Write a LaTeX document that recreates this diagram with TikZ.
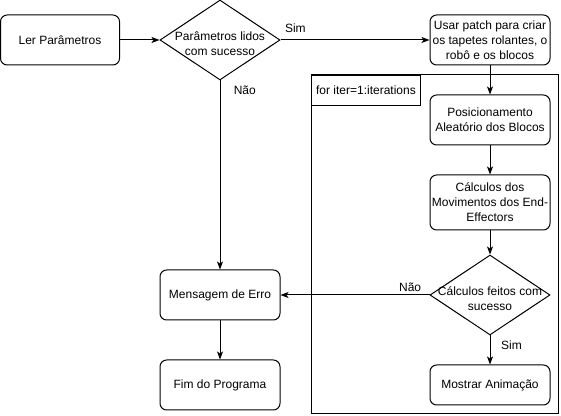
\documentclass[tikz,border=0pt]{standalone}
\usepackage{fontspec}
\setmainfont{Liberation Sans}
\usepackage{tikz}
\usetikzlibrary{shapes.geometric, arrows.meta}

\begin{document}
\begin{tikzpicture}[x=0.75pt,y=0.75pt,yscale=-1,xscale=1,
  every node/.style={font=\fontsize{9}{11.25}\selectfont, text=black},
  procbox/.style={draw, line width=0.75pt, rounded corners=5pt, minimum width=90pt, minimum height=37.5pt, align=center, inner sep=1pt},
  decision/.style={draw, line width=0.75pt, diamond, inner sep=0pt, minimum width=90pt, minimum height=60pt},
  inside/.style={align=center, inner sep=0pt},
  flow/.style={line width=0.75pt, -{Stealth[length=6pt,width=4.5pt,inset=1.5pt]}},
  edgelabel/.style={inner sep=1pt}]
%set diagram left start at 0, and has height of 416
\useasboundingbox (0,0) rectangle (561,416);

%Shape: Loop frame
\draw [line width=0.75pt]  (311,75) rectangle (558,414) ;
% Text Node: loop header
\node [draw, line width=0.75pt, anchor=north west, minimum width=81.75pt, minimum height=22.5pt, inner sep=3pt, align=left] (loophead) at (311,75) {for iter=1:iterations};

%Shape: Rounded Rect [Ler]
\node [procbox, minimum width=89.25pt] (ler) at (60,40) {Ler Parâmetros};
%Shape: Diamond [lidos]
\node [decision] (lidos) at (220,40) {};
% Text Node
\node [inside] (lidostext) at (220,44) {Parâmetros lidos\\com sucesso};
%Shape: Rounded Rect [patch]
\node [procbox] (patch) at (490,40) {Usar patch para criar\\os tapetes rolantes, o\\robô e os blocos};
%Shape: Rounded Rect [posic]
\node [procbox] (posic) at (490,120) {Posicionamento\\Aleatório dos Blocos};
%Shape: Rounded Rect [calc]
\node [procbox, minimum height=41.25pt] (calc) at (490,202.5) {Cálculos dos\\Movimentos dos End-\\Effectors};
%Shape: Diamond [feitos]
\node [decision] (feitos) at (490,295) {};
% Text Node
\node [inside] (feitostext) at (490,299) {Cálculos feitos com\\sucesso};
%Shape: Rounded Rect [anim]
\node [procbox, minimum height=30pt] (anim) at (490,385) {Mostrar Animação};
%Shape: Rounded Rect [erro]
\node [procbox] (erro) at (220,295) {Mensagem de Erro};
%Shape: Rounded Rect [fim]
\node [procbox] (fim) at (220,385) {Fim do Programa};

%Straight Lines
\draw [flow] (ler) -- (lidos) ;
\draw [flow] (lidos) -- node [edgelabel, pos=0.1, above=4pt] {Sim} (patch) ;
\draw [flow] (lidos) -- node [edgelabel, pos=0.05, anchor=west, xshift=9pt] {Não} (erro) ;
\draw [flow] (patch) -- (posic) ;
\draw [flow] (posic) -- (calc) ;
\draw [flow] (calc) -- (feitos) ;
\draw [flow] (feitos) -- node [edgelabel, pos=0.13, above=1pt] {Não} (erro) ;
\draw [flow] (feitos) -- node [edgelabel, pos=0.35, anchor=west, xshift=7pt] {Sim} (anim) ;
\draw [flow] (erro) -- (fim) ;
\end{tikzpicture}
\end{document}
